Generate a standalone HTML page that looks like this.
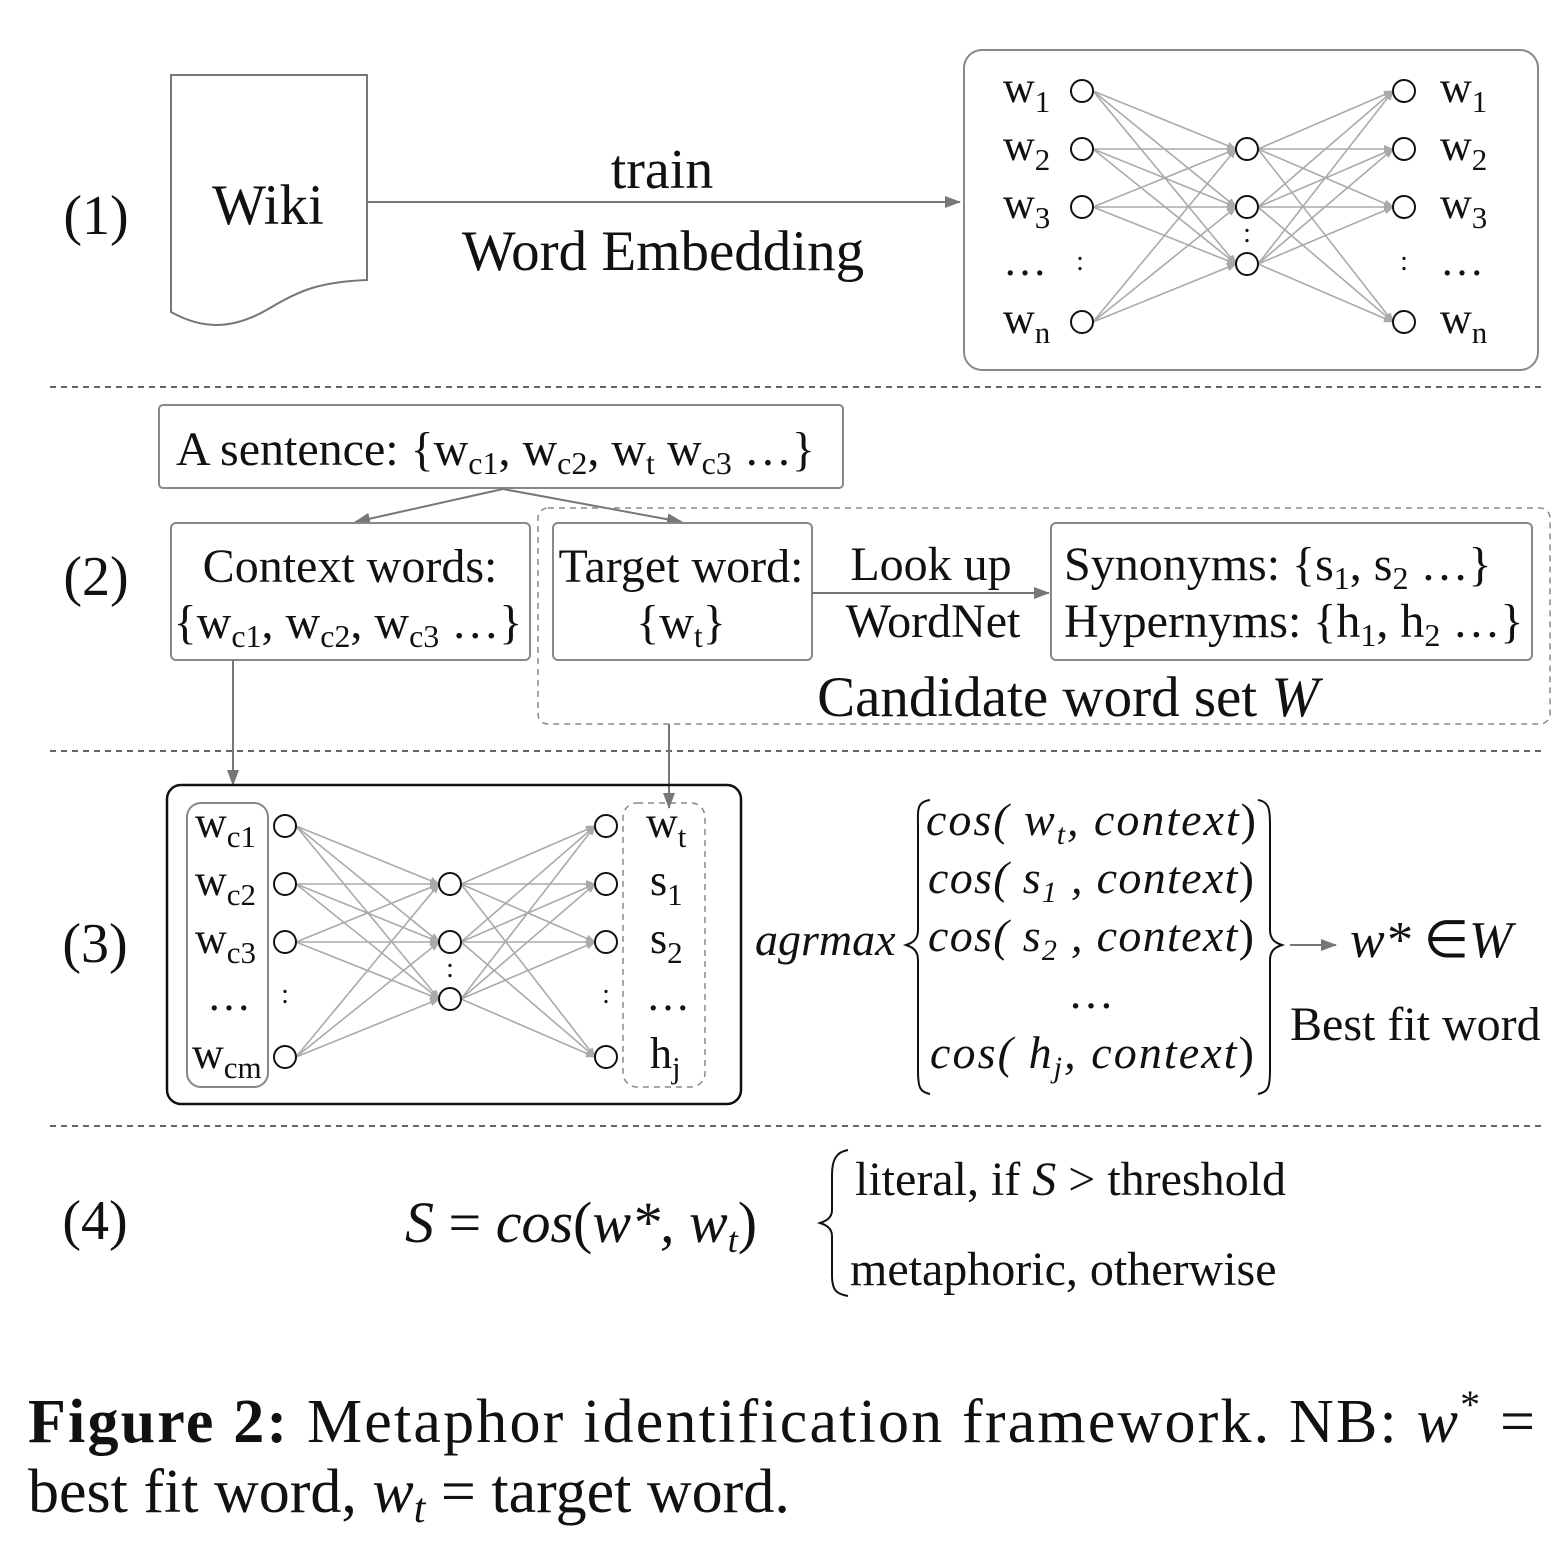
<!DOCTYPE html>
<html><head><meta charset="utf-8"><style>
html,body{margin:0;padding:0;background:#fff}
svg{display:block}
text{font-family:"Liberation Serif",serif;fill:#111}
.i{font-style:italic}
</style></head><body>
<svg width="1568" height="1566" viewBox="0 0 1568 1566" xmlns="http://www.w3.org/2000/svg">
<defs>
<marker id="a" markerWidth="10" markerHeight="8" refX="9" refY="4" orient="auto" markerUnits="userSpaceOnUse"><path d="M0,0 L10,4 L0,8 Z" fill="#aaa"/></marker>
<marker id="b" markerWidth="16" markerHeight="12" refX="15" refY="6" orient="auto" markerUnits="userSpaceOnUse"><path d="M0,0 L16,6 L0,12 Z" fill="#777"/></marker>
</defs>

<!-- Section 1 -->
<text x="96" y="234" font-size="56" text-anchor="middle">(1)</text>
<path d="M171,75 H367 V280 C320,282 300,290 270,308 C230,332 200,328 171,312 Z" fill="none" stroke="#777" stroke-width="2"/>
<text x="268" y="224" font-size="57" text-anchor="middle">Wiki</text>
<line x1="367" y1="202" x2="960" y2="202" stroke="#777" stroke-width="2" marker-end="url(#b)"/>
<text x="662" y="188" font-size="56" text-anchor="middle">train</text>
<text x="663" y="270" font-size="57" text-anchor="middle">Word Embedding</text>
<rect x="964" y="50" width="574" height="320" rx="18" fill="none" stroke="#888" stroke-width="2"/>
<g stroke="#aaa" stroke-width="1.6" marker-end="url(#a)">
<line x1="1093" y1="91" x2="1236" y2="149"/><line x1="1093" y1="91" x2="1236" y2="207"/><line x1="1093" y1="91" x2="1236" y2="264"/>
<line x1="1093" y1="149" x2="1236" y2="149"/><line x1="1093" y1="149" x2="1236" y2="207"/><line x1="1093" y1="149" x2="1236" y2="264"/>
<line x1="1093" y1="207" x2="1236" y2="149"/><line x1="1093" y1="207" x2="1236" y2="207"/><line x1="1093" y1="207" x2="1236" y2="264"/>
<line x1="1093" y1="322" x2="1236" y2="149"/><line x1="1093" y1="322" x2="1236" y2="207"/><line x1="1093" y1="322" x2="1236" y2="264"/>
<line x1="1258" y1="149" x2="1393" y2="91"/><line x1="1258" y1="149" x2="1393" y2="149"/><line x1="1258" y1="149" x2="1393" y2="207"/><line x1="1258" y1="149" x2="1393" y2="322"/>
<line x1="1258" y1="207" x2="1393" y2="91"/><line x1="1258" y1="207" x2="1393" y2="149"/><line x1="1258" y1="207" x2="1393" y2="207"/><line x1="1258" y1="207" x2="1393" y2="322"/>
<line x1="1258" y1="264" x2="1393" y2="91"/><line x1="1258" y1="264" x2="1393" y2="149"/><line x1="1258" y1="264" x2="1393" y2="207"/><line x1="1258" y1="264" x2="1393" y2="322"/>
</g>
<g fill="#fff" stroke="#111" stroke-width="2">
<circle cx="1082" cy="91" r="11"/><circle cx="1082" cy="149" r="11"/><circle cx="1082" cy="207" r="11"/><circle cx="1082" cy="322" r="11"/>
<circle cx="1247" cy="149" r="11"/><circle cx="1247" cy="207" r="11"/><circle cx="1247" cy="264" r="11"/>
<circle cx="1404" cy="91" r="11"/><circle cx="1404" cy="149" r="11"/><circle cx="1404" cy="207" r="11"/><circle cx="1404" cy="322" r="11"/>
</g>
<g font-size="44">
<text x="1003" y="102">w<tspan font-size="31" dy="10">1</tspan></text>
<text x="1003" y="160">w<tspan font-size="31" dy="10">2</tspan></text>
<text x="1003" y="218">w<tspan font-size="31" dy="10">3</tspan></text>
<text x="1003" y="275">…</text>
<text x="1003" y="333">w<tspan font-size="31" dy="10">n</tspan></text>
<text x="1440" y="102">w<tspan font-size="31" dy="10">1</tspan></text>
<text x="1440" y="160">w<tspan font-size="31" dy="10">2</tspan></text>
<text x="1440" y="218">w<tspan font-size="31" dy="10">3</tspan></text>
<text x="1440" y="275">…</text>
<text x="1440" y="333">w<tspan font-size="31" dy="10">n</tspan></text>
</g>
<g font-size="28" text-anchor="middle"><text x="1080" y="270">:</text><text x="1404" y="270">:</text><text x="1247" y="242">:</text></g>

<g stroke="#333" stroke-width="1.5" stroke-dasharray="6,5">
<line x1="50" y1="387" x2="1545" y2="387"/><line x1="50" y1="751" x2="1545" y2="751"/><line x1="50" y1="1126" x2="1545" y2="1126"/>
</g>

<!-- Section 2 -->
<text x="96" y="595" font-size="56" text-anchor="middle">(2)</text>
<rect x="159" y="405" width="684" height="83" rx="4" fill="none" stroke="#888" stroke-width="2"/>
<text x="176" y="465" font-size="48">A sentence: {w<tspan font-size="32" dy="9">c1</tspan><tspan dy="-9">, w</tspan><tspan font-size="32" dy="9">c2</tspan><tspan dy="-9">, w</tspan><tspan font-size="32" dy="9">t</tspan><tspan dy="-9"> w</tspan><tspan font-size="32" dy="9">c3</tspan><tspan dy="-9"> …}</tspan></text>
<line x1="503" y1="489" x2="355" y2="522" stroke="#777" stroke-width="2" marker-end="url(#b)"/>
<line x1="503" y1="489" x2="682" y2="522" stroke="#777" stroke-width="2" marker-end="url(#b)"/>
<rect x="538" y="508" width="1012" height="216" rx="10" fill="none" stroke="#888" stroke-width="1.5" stroke-dasharray="6,5"/>
<rect x="171" y="523" width="359" height="137" rx="5" fill="#fff" stroke="#888" stroke-width="2"/>
<text x="350" y="582" font-size="48" text-anchor="middle">Context words:</text>
<text x="348" y="638" font-size="48" text-anchor="middle">{w<tspan font-size="32" dy="9">c1</tspan><tspan dy="-9">, w</tspan><tspan font-size="32" dy="9">c2</tspan><tspan dy="-9">, w</tspan><tspan font-size="32" dy="9">c3</tspan><tspan dy="-9"> …}</tspan></text>
<rect x="553" y="523" width="259" height="137" rx="5" fill="#fff" stroke="#888" stroke-width="2"/>
<text x="681" y="582" font-size="48" text-anchor="middle">Target word:</text>
<text x="681" y="638" font-size="48" text-anchor="middle">{w<tspan font-size="32" dy="9">t</tspan><tspan dy="-9">}</tspan></text>
<line x1="812" y1="593" x2="1049" y2="593" stroke="#777" stroke-width="2" marker-end="url(#b)"/>
<text x="931" y="580" font-size="48" text-anchor="middle">Look up</text>
<text x="933" y="637" font-size="48" text-anchor="middle">WordNet</text>
<rect x="1051" y="523" width="481" height="137" rx="5" fill="#fff" stroke="#888" stroke-width="2"/>
<text x="1064" y="580" font-size="48">Synonyms: {s<tspan font-size="32" dy="9">1</tspan><tspan dy="-9">, s</tspan><tspan font-size="32" dy="9">2</tspan><tspan dy="-9"> …}</tspan></text>
<text x="1064" y="637" font-size="48">Hypernyms: {h<tspan font-size="32" dy="9">1</tspan><tspan dy="-9">, h</tspan><tspan font-size="32" dy="9">2</tspan><tspan dy="-9"> …}</tspan></text>
<text x="1068" y="716" font-size="57" text-anchor="middle">Candidate word set <tspan class="i">W</tspan></text>

<!-- Section 3 -->
<text x="95" y="962" font-size="56" text-anchor="middle">(3)</text>
<line x1="233" y1="660" x2="233" y2="785" stroke="#777" stroke-width="2" marker-end="url(#b)"/>
<line x1="669" y1="724" x2="669" y2="808" stroke="#777" stroke-width="2" marker-end="url(#b)"/>
<rect x="167" y="785" width="574" height="319" rx="14" fill="none" stroke="#111" stroke-width="2.5"/>
<rect x="187" y="803" width="81" height="284" rx="14" fill="none" stroke="#888" stroke-width="2"/>
<rect x="623" y="803" width="82" height="284" rx="14" fill="none" stroke="#888" stroke-width="1.5" stroke-dasharray="6,5"/>
<g stroke="#aaa" stroke-width="1.6" marker-end="url(#a)">
<line x1="296" y1="826" x2="439" y2="884"/><line x1="296" y1="826" x2="439" y2="942"/><line x1="296" y1="826" x2="439" y2="999"/>
<line x1="296" y1="884" x2="439" y2="884"/><line x1="296" y1="884" x2="439" y2="942"/><line x1="296" y1="884" x2="439" y2="999"/>
<line x1="296" y1="942" x2="439" y2="884"/><line x1="296" y1="942" x2="439" y2="942"/><line x1="296" y1="942" x2="439" y2="999"/>
<line x1="296" y1="1057" x2="439" y2="884"/><line x1="296" y1="1057" x2="439" y2="942"/><line x1="296" y1="1057" x2="439" y2="999"/>
<line x1="461" y1="884" x2="595" y2="826"/><line x1="461" y1="884" x2="595" y2="884"/><line x1="461" y1="884" x2="595" y2="942"/><line x1="461" y1="884" x2="595" y2="1057"/>
<line x1="461" y1="942" x2="595" y2="826"/><line x1="461" y1="942" x2="595" y2="884"/><line x1="461" y1="942" x2="595" y2="942"/><line x1="461" y1="942" x2="595" y2="1057"/>
<line x1="461" y1="999" x2="595" y2="826"/><line x1="461" y1="999" x2="595" y2="884"/><line x1="461" y1="999" x2="595" y2="942"/><line x1="461" y1="999" x2="595" y2="1057"/>
</g>
<g fill="#fff" stroke="#111" stroke-width="2">
<circle cx="285" cy="826" r="11"/><circle cx="285" cy="884" r="11"/><circle cx="285" cy="942" r="11"/><circle cx="285" cy="1057" r="11"/>
<circle cx="450" cy="884" r="11"/><circle cx="450" cy="942" r="11"/><circle cx="450" cy="999" r="11"/>
<circle cx="606" cy="826" r="11"/><circle cx="606" cy="884" r="11"/><circle cx="606" cy="942" r="11"/><circle cx="606" cy="1057" r="11"/>
</g>
<g font-size="44">
<text x="195" y="837">w<tspan font-size="31" dy="10">c1</tspan></text>
<text x="195" y="895">w<tspan font-size="31" dy="10">c2</tspan></text>
<text x="195" y="953">w<tspan font-size="31" dy="10">c3</tspan></text>
<text x="207" y="1010">…</text>
<text x="192" y="1068">w<tspan font-size="31" dy="10">cm</tspan></text>
<text x="646" y="837">w<tspan font-size="31" dy="10">t</tspan></text>
<text x="650" y="895">s<tspan font-size="31" dy="10">1</tspan></text>
<text x="650" y="953">s<tspan font-size="31" dy="10">2</tspan></text>
<text x="646" y="1010">…</text>
<text x="650" y="1068">h<tspan font-size="31" dy="10">j</tspan></text>
</g>
<g font-size="28" text-anchor="middle"><text x="285" y="1003">:</text><text x="606" y="1003">:</text><text x="450" y="977">:</text></g>
<text x="755" y="955" font-size="46" class="i">agrmax</text>
<path d="M930,800 C916,802 918,810 918,830 L918,930 C918,940 912,943 906,945 C912,947 918,950 918,960 L918,1070 C918,1088 920,1092 930,1094" fill="none" stroke="#111" stroke-width="2"/>
<path d="M1258,800 C1270,802 1270,810 1270,830 L1270,930 C1270,940 1276,943 1282,945 C1276,947 1270,950 1270,960 L1270,1070 C1270,1088 1268,1092 1258,1094" fill="none" stroke="#111" stroke-width="2"/>
<g font-size="46" class="i">
<text x="926" y="835" textLength="330">cos( w<tspan font-size="30" dy="9">t</tspan><tspan dy="-9">, context</tspan><tspan font-style="normal">)</tspan></text>
<text x="928" y="893" textLength="326">cos( s<tspan font-size="30" dy="9">1</tspan><tspan dy="-9"> , context</tspan><tspan font-style="normal">)</tspan></text>
<text x="928" y="951" textLength="326">cos( s<tspan font-size="30" dy="9">2</tspan><tspan dy="-9"> , context</tspan><tspan font-style="normal">)</tspan></text>
<text x="1068" y="1008" font-style="normal">…</text>
<text x="930" y="1068" textLength="324">cos( h<tspan font-size="30" dy="9">j</tspan><tspan dy="-9">, context</tspan><tspan font-style="normal">)</tspan></text>
</g>
<line x1="1290" y1="945" x2="1336" y2="945" stroke="#777" stroke-width="2" marker-end="url(#b)"/>
<text x="1350" y="957" font-size="52" class="i">w* <tspan font-style="normal">∈</tspan>W</text>
<text x="1290" y="1040" font-size="48">Best fit word</text>

<!-- Section 4 -->
<text x="95" y="1239" font-size="56" text-anchor="middle">(4)</text>
<text x="405" y="1242" font-size="58" class="i">S <tspan font-style="normal">=</tspan> cos<tspan font-style="normal">(</tspan>w*, w<tspan font-size="36" dy="10">t</tspan><tspan dy="-10" font-style="normal">)</tspan></text>
<path d="M848,1150 C836,1152 832,1160 832,1175 L832,1210 C832,1218 826,1221 820,1223 C826,1225 832,1228 832,1236 L832,1275 C832,1290 836,1294 848,1296" fill="none" stroke="#111" stroke-width="2"/>
<text x="855" y="1195" font-size="48">literal, if <tspan class="i">S</tspan> &gt; threshold</text>
<text x="850" y="1285" font-size="48">metaphoric, otherwise</text>

<!-- Caption -->
<text x="28" y="1442" font-size="62" textLength="1507" lengthAdjust="spacing"><tspan font-weight="bold">Figure 2:</tspan>  Metaphor identification framework.  NB: <tspan class="i">w</tspan><tspan font-size="40" dy="-24">*</tspan><tspan dy="24"> =</tspan></text>
<text x="28" y="1512" font-size="62">best fit word, <tspan class="i">w</tspan><tspan class="i" font-size="42" dy="10">t</tspan><tspan dy="-10"> = target word.</tspan></text>
</svg>
</body></html>
